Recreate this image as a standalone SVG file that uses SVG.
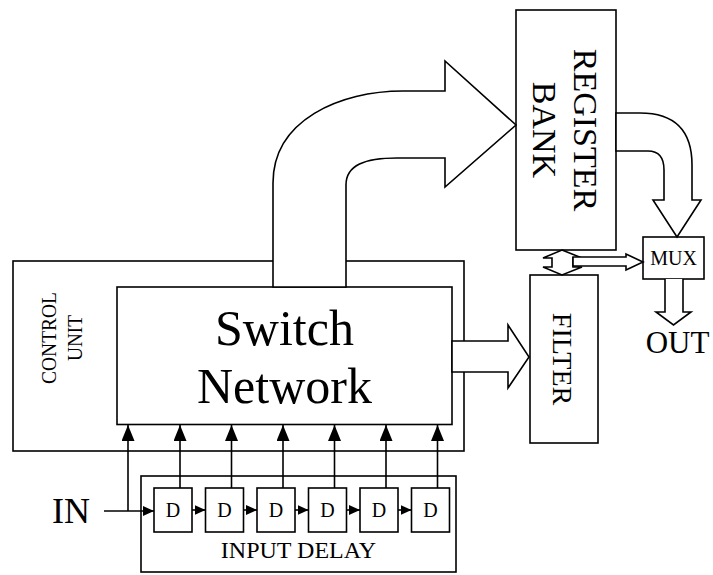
<svg xmlns="http://www.w3.org/2000/svg" width="713" height="575" viewBox="0 0 713 575">
<defs>
<style>
.box{fill:#fff;stroke:#000;stroke-width:1.6}
.hollow{fill:#fff;stroke:#000;stroke-width:1.6;stroke-linejoin:miter}
.wire{fill:none;stroke:#000;stroke-width:1.6}
.t{font-family:"Liberation Serif","Times New Roman",serif;fill:#000}
</style>
<marker id="big" markerUnits="userSpaceOnUse" markerWidth="16" markerHeight="13" viewBox="0 0 16 13" refX="16" refY="6.5" orient="auto">
<path d="M0,0 L16,6.5 L0,13 Z" fill="#000"/>
</marker>
<marker id="small" markerUnits="userSpaceOnUse" markerWidth="11" markerHeight="10" viewBox="0 0 11 10" refX="11" refY="5" orient="auto">
<path d="M0,0 L11,5 L0,10 Z" fill="#000"/>
</marker>
</defs>
<rect width="713" height="575" fill="#fff"/>

<g id="control-unit">
<rect class="box" x="13" y="261" width="451" height="190"/>
<g transform="translate(40,338) rotate(-90)">
<text class="t" x="0" y="16" font-size="22" text-anchor="middle" textLength="92" lengthAdjust="spacingAndGlyphs">CONTROL</text>
<text class="t" x="0" y="42" font-size="22" text-anchor="middle" textLength="46" lengthAdjust="spacingAndGlyphs">UNIT</text>
</g>
</g>

<g id="switch-network">
<rect class="box" x="117" y="287" width="335" height="137.5"/>
<text class="t" x="284.5" y="345" font-size="50" text-anchor="middle">Switch</text>
<text class="t" x="284.5" y="403" font-size="50" text-anchor="middle">Network</text>
</g>

<g id="register-bank">
<rect class="box" x="516" y="10" width="100" height="240"/>
<g transform="translate(566,130) rotate(90)">
<text class="t" x="0" y="-8" font-size="34" text-anchor="middle">REGISTER</text>
<text class="t" x="0" y="33" font-size="34" text-anchor="middle">BANK</text>
</g>
</g>

<g id="filter">
<rect class="box" x="530" y="275" width="68" height="168"/>
<text class="t" transform="translate(564,359) rotate(90)" x="0" y="11" font-size="28" text-anchor="middle">FILTER</text>
</g>

<g id="mux">
<rect class="box" x="643" y="237" width="61" height="42"/>
<text class="t" x="673.5" y="265" font-size="20" text-anchor="middle">MUX</text>
</g>

<g id="input-delay">
<rect class="box" x="141" y="476" width="315" height="96"/>
<text class="t" x="298.5" y="558" font-size="24" text-anchor="middle">INPUT DELAY</text>
<g id="d1"><rect class="box" x="154" y="488" width="38" height="44"/><text class="t" x="173" y="517" font-size="20" text-anchor="middle">D</text></g>
<g id="d2"><rect class="box" x="205.5" y="488" width="38" height="44"/><text class="t" x="224.5" y="517" font-size="20" text-anchor="middle">D</text></g>
<g id="d3"><rect class="box" x="257" y="488" width="38" height="44"/><text class="t" x="276" y="517" font-size="20" text-anchor="middle">D</text></g>
<g id="d4"><rect class="box" x="308.5" y="488" width="38" height="44"/><text class="t" x="327.5" y="517" font-size="20" text-anchor="middle">D</text></g>
<g id="d5"><rect class="box" x="360" y="488" width="38" height="44"/><text class="t" x="379" y="517" font-size="20" text-anchor="middle">D</text></g>
<g id="d6"><rect class="box" x="411.5" y="488" width="38" height="44"/><text class="t" x="430.5" y="517" font-size="20" text-anchor="middle">D</text></g>
</g>

<g id="in-label"><text class="t" x="90" y="523" font-size="36" text-anchor="end">IN</text></g>
<g id="out-label"><text class="t" x="677.5" y="353" font-size="31" text-anchor="middle">OUT</text></g>

<g id="connectors">
<path class="hollow" d="M273,287 L273,183 C273,120 340,91 403,91 L445,91 L445,61 L516,125 L445,187 L445,158 L397,158 C365,158 346,165 346,185 L346,287 Z"/>
<path class="hollow" d="M616,113 L640,113 Q692,113 692,165 L692,200 L701,200 L677,237 L653,200 L664,200 L664,170 Q664,151 648,151 L616,151 Z"/>
<path class="hollow" d="M452,341 L508,341 L508,325 L529,357 L508,388 L508,372 L452,372 Z"/>
<path class="hollow" d="M562,250 L582,258 L573,258 L573,267 L582,267 L562,275 L543,267 L552,267 L552,258 L543,258 Z"/>
<path class="hollow" d="M573,257 L626,257 L626,254 L643,262 L626,270 L626,266 L573,266 Z"/>
<path class="hollow" d="M665,279 L665,312 L656,312 L673.5,325 L691,312 L683,312 L683,279"/>
<path class="wire" d="M104,511 L154,511" marker-end="url(#small)"/>
<path class="wire" d="M128,511 L128,425" marker-end="url(#big)"/>
<path class="wire" d="M180,488 L180,425" marker-end="url(#big)"/>
<path class="wire" d="M231.5,488 L231.5,425" marker-end="url(#big)"/>
<path class="wire" d="M283,488 L283,425" marker-end="url(#big)"/>
<path class="wire" d="M334.5,488 L334.5,425" marker-end="url(#big)"/>
<path class="wire" d="M386,488 L386,425" marker-end="url(#big)"/>
<path class="wire" d="M437.5,488 L437.5,425" marker-end="url(#big)"/>
<path class="wire" d="M192,510 L205.5,510" marker-end="url(#small)"/>
<path class="wire" d="M243.5,510 L257,510" marker-end="url(#small)"/>
<path class="wire" d="M295,510 L308.5,510" marker-end="url(#small)"/>
<path class="wire" d="M346.5,510 L360,510" marker-end="url(#small)"/>
<path class="wire" d="M398,510 L411.5,510" marker-end="url(#small)"/>
</g>
</svg>
